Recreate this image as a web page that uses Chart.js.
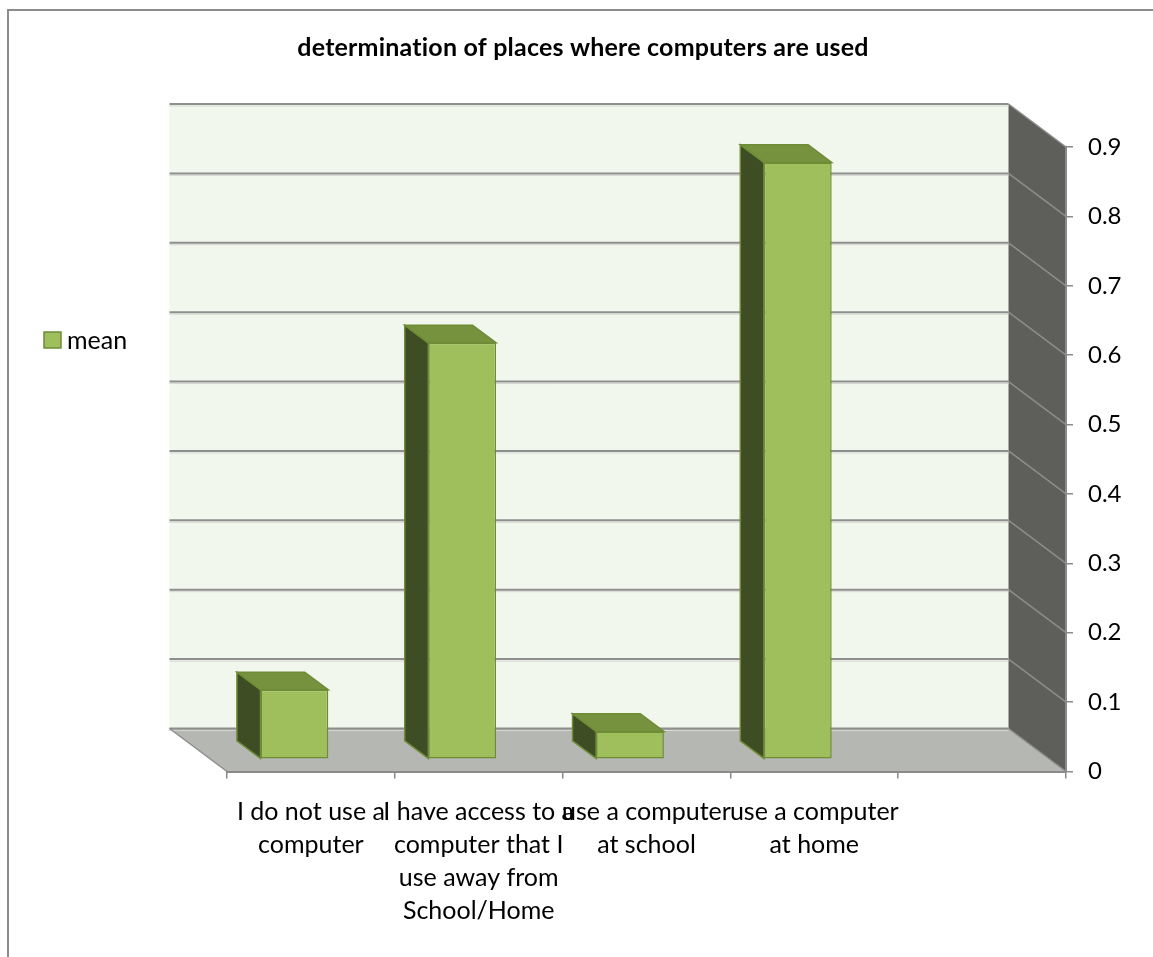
<!DOCTYPE html>
<html>
<head>
<meta charset="utf-8">
<script src="https://cdn.jsdelivr.net/npm/chart.js@4"></script>
<style>
  html, body { margin: 0; padding: 0; background: #fff; }
  canvas { display: block; }
</style>
</head>
<body>
<canvas id="chart" width="1153" height="957"></canvas>
<script>
const chartTitle = 'determination of places where computers are used';
const seriesName = 'mean';
const categories = [
  ['I do not use a', 'computer'],
  ['I have access to a', 'computer that I', 'use away from', 'School/Home'],
  ['use a computer', 'at school'],
  ['use a computer', 'at home'],
  ''
];
const meanValues = [0.1, 0.6, 0.04, 0.86, null];
const valueTicks = [0, 0.1, 0.2, 0.3, 0.4, 0.5, 0.6, 0.7, 0.8, 0.9];

// fake 3d: offset of the back wall from the front plane
const DEPTH_X = 57.5;
const DEPTH_Y = 43;
// bar boxes sit between these fractions of the depth
const BAR_FRONT = 0.287;
const BAR_DEPTH = 0.41;

const FONT = 'Lato, "Open Sans", sans-serif';
const GREEN = '#9FBF5D';
const GREEN_TOP = '#77923F';
const GREEN_SIDE = '#3E4D23';
const GREEN_EDGE = '#6E8C36';

function poly(ctx, pts, fill, stroke, lw) {
  ctx.beginPath();
  ctx.moveTo(pts[0][0], pts[0][1]);
  for (let i = 1; i < pts.length; i++) ctx.lineTo(pts[i][0], pts[i][1]);
  ctx.closePath();
  if (fill) { ctx.fillStyle = fill; ctx.fill(); }
  if (stroke) { ctx.strokeStyle = stroke; ctx.lineWidth = lw || 1; ctx.stroke(); }
}

function line(ctx, x1, y1, x2, y2, color, lw) {
  ctx.beginPath();
  ctx.moveTo(x1, y1);
  ctx.lineTo(x2, y2);
  ctx.strokeStyle = color;
  ctx.lineWidth = lw;
  ctx.stroke();
}

const depthPlugin = {
  id: 'depthFrame',
  beforeDraw(chart) {
    const { ctx, chartArea: a, scales: { y } } = chart;
    const y0 = y.getPixelForValue(valueTicks[0]);
    const yTop = y.getPixelForValue(valueTicks[valueTicks.length - 1]);
    const bl = a.left - DEPTH_X, br = a.right - DEPTH_X;

    ctx.save();
    ctx.fillStyle = '#fff';
    ctx.fillRect(0, 0, chart.width, chart.height);
    ctx.strokeStyle = '#8C8C8C';
    ctx.lineWidth = 2;
    ctx.strokeRect(8, 10, chart.width + 40, chart.height + 40);

    // back wall, floor, side wall
    ctx.fillStyle = '#F2F7EE';
    ctx.fillRect(bl, yTop - DEPTH_Y, br - bl, y0 - yTop);
    poly(ctx, [[bl, y0 - DEPTH_Y], [br, y0 - DEPTH_Y], [a.right, y0], [a.left, y0]], '#B5B7B2');
    poly(ctx, [[br, yTop - DEPTH_Y], [a.right, yTop], [a.right, y0], [br, y0 - DEPTH_Y]], '#5E5F5A');

    valueTicks.forEach(v => {
      const py = y.getPixelForValue(v);
      line(ctx, bl, py - DEPTH_Y + 2, br, py - DEPTH_Y + 2, '#D4D8D0', 1);
      line(ctx, bl, py - DEPTH_Y, br, py - DEPTH_Y, '#8E8E8E', 2);
      line(ctx, br, py - DEPTH_Y, a.right, py, '#8D8E89', 1.5);
    });
    line(ctx, bl, y0 - DEPTH_Y, a.left, y0, '#8E8E8E', 1.5);
    ctx.restore();
  },
  beforeDatasetsDraw(chart) {
    const { ctx } = chart;
    ctx.save();
    ctx.translate(-DEPTH_X * BAR_FRONT, -DEPTH_Y * BAR_FRONT);
    const bx = DEPTH_X * BAR_DEPTH, by = DEPTH_Y * BAR_DEPTH;
    const meta = chart.getDatasetMeta(0);
    meta.data.forEach((el, i) => {
      if (meanValues[i] == null) return;
      const { x, y, base, width } = el.getProps(['x', 'y', 'base', 'width'], true);
      const L = x - width / 2, R = x + width / 2;
      poly(ctx, [[L, y], [L - bx, y - by], [L - bx, base - by], [L, base]], GREEN_SIDE, GREEN_EDGE, 1.5);
      poly(ctx, [[L, y], [L - bx, y - by], [R - bx, y - by], [R, y]], GREEN_TOP, GREEN_EDGE, 1.5);
    });
  },
  afterDatasetsDraw(chart) {
    chart.ctx.restore();
  },
  afterDraw(chart) {
    const { ctx } = chart;
    ctx.save();
    ctx.fillStyle = '#000';
    ctx.textAlign = 'center';
    ctx.textBaseline = 'middle';
    ctx.font = 'bold 25px ' + FONT;
    if ('letterSpacing' in ctx) ctx.letterSpacing = '0.2px';
    ctx.fillText(chartTitle, 583, 48);
    if ('letterSpacing' in ctx) ctx.letterSpacing = '0px';

    // legend
    const ds = chart.data.datasets[0];
    ctx.fillStyle = ds.backgroundColor;
    ctx.fillRect(44, 332, 17, 16);
    ctx.strokeStyle = GREEN_EDGE;
    ctx.lineWidth = 1.5;
    ctx.strokeRect(44, 332, 17, 16);
    ctx.fillStyle = '#000';
    ctx.textAlign = 'left';
    ctx.font = '25px ' + FONT;
    ctx.fillText(ds.label, 67, 341);
    ctx.restore();
  }
};

new Chart(document.getElementById('chart'), {
  type: 'bar',
  data: {
    labels: categories,
    datasets: [{
      label: seriesName,
      data: meanValues,
      backgroundColor: GREEN,
      borderColor: GREEN_EDGE,
      borderWidth: 1.5,
      borderSkipped: false,
      categoryPercentage: 1,
      barPercentage: 0.404,
      clip: false
    }]
  },
  options: {
    responsive: false,
    animation: false,
    devicePixelRatio: 1,
    layout: { padding: { left: 227, top: 147, right: 0, bottom: 0 } },
    plugins: {
      legend: { display: false },
      title: { display: false },
      tooltip: { enabled: false }
    },
    scales: {
      x: {
        grid: { drawOnChartArea: false, drawTicks: true, tickLength: 7, color: '#8A8A8A', lineWidth: 1.5 },
        border: { display: true, color: '#8A8A8A', width: 2 },
        ticks: {
          autoSkip: false, maxRotation: 0, minRotation: 0, padding: 17,
          color: '#000', font: { family: FONT, size: 25, lineHeight: 1.32 }
        },
        afterFit(scale) { scale.height = 185.5; }
      },
      y: {
        position: 'right',
        min: valueTicks[0],
        max: valueTicks[valueTicks.length - 1],
        afterBuildTicks(scale) { scale.ticks = valueTicks.map(v => ({ value: v })); },
        grid: { drawOnChartArea: false, drawTicks: true, tickLength: 7, color: '#8A8A8A', lineWidth: 1.5 },
        border: { display: true, color: '#8A8A8A', width: 2 },
        ticks: { padding: 15, color: '#000', font: { family: FONT, size: 24 } },
        afterFit(scale) { scale.width = 87; }
      }
    }
  },
  plugins: [depthPlugin]
});
</script>
</body>
</html>
